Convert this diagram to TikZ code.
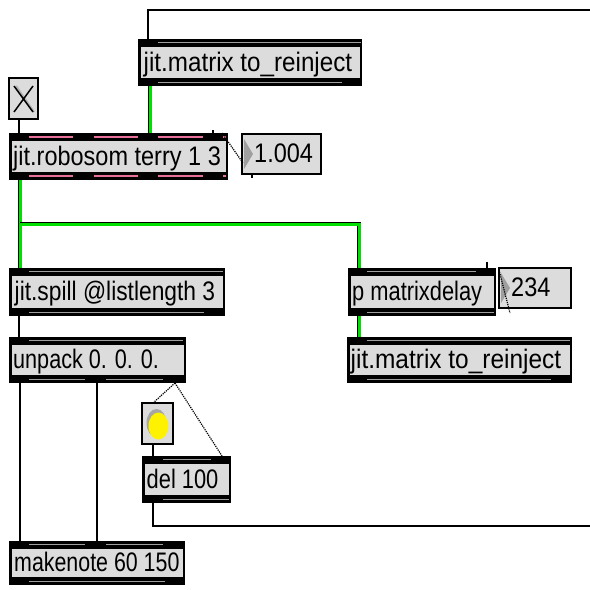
\documentclass[tikz,border=0pt]{standalone}
\usepackage{fontspec}
\usepackage{graphicx}
\setmainfont{Liberation Sans}
\usetikzlibrary{calc}
\definecolor{boxgrey}{HTML}{DCDCDC}
\definecolor{bargrey}{HTML}{A0A0A0}
\definecolor{cordgreen}{HTML}{00E000}
\definecolor{pinkbar}{HTML}{E8709A}
\tikzset{
  objbox/.style={draw=none, fill=black, inner sep=0pt, outer sep=0pt},
  smallbox/.style={draw=black, line width=1.5pt, fill=boxgrey, inner sep=0pt, outer sep=0pt},
  objtext/.style={anchor=west, inner sep=0pt, font=\fontsize{23.5}{23.5}\selectfont, text height=20pt, text depth=3pt},
  cord/.style={draw=black, line width=1.6pt},
  dotcord/.style={draw=black, line width=1.2pt, densely dotted},
  greencord/.style={draw=black, line width=0.7pt, double=cordgreen, double distance=3pt},
  inletbar/.style={draw=bargrey, line width=1.8pt},
  pinkdash/.style={draw=pinkbar, line width=2pt},
}
% name, x1, y1, x2, y2, text, xscale of text, text offset
\newcommand\maxobj[8]{%
  \node[objbox, minimum width={(#4-#2)*1pt}, minimum height={(#5-#3)*1pt}] (#1) at ({(#2+#4)/2},{(#3+#5)/2}) {};
  \fill[boxgrey] ({#2+2.5},{#3+8}) rectangle ({#4-2},{#5-8});
  \node[objtext] at ({#2+#8},{(#3+#5)/2}) {\scalebox{#7}[1.14]{#6}};
}
\newcommand\inbar[3]{\draw[inletbar] (#1,#3) -- (#2,#3);}
\newcommand\numbox[6]{%
  \node[smallbox, minimum width={(#4-#2)*1pt}, minimum height={(#5-#3)*1pt}] (#1) at ({(#2+#4)/2},{(#3+#5)/2}) {};
  \fill[gray!75] ({#2+2},{#3+5}) -- ({#2+11},{(#3+#5)/2}) -- ({#2+2},{#5-5}) -- cycle;
  \node[objtext, text height=19pt, text depth=2pt] at ({#2+12},{(#3+#5)/2}) {\scalebox{1}[1.14]{#6}};
}
\begin{document}
\begin{tikzpicture}[x=1pt,y=-1pt]
\fill[white] (0,0) rectangle (590,590);
\useasboundingbox (0,0) rectangle (590,590);

% objects
\maxobj{mtop}{138}{39}{362}{86}{jit.matrix to\_reinject}{1.03}{5.5}
\inbar{158}{361}{42.5}\inbar{158}{342}{82.5}

\node[smallbox, minimum width=29pt, minimum height=41pt] (toggle) at (23.5,98.5) {};
\draw[gray!60, line width=2pt] (16,86) -- (34,112);
\draw[black, line width=1.5pt] (14,86) -- (33,112) (33,86) -- (14,112);

\node[objbox, minimum width=219pt, minimum height=47pt] (robo) at (118.5,156.5) {};
\fill[boxgrey] (11.5,141) rectangle (226,172);
\node[objtext] at (13,156.5) {\scalebox{1.0}[1.14]{jit.robosom terry 1 3}};
\foreach \a/\b in {29/73,94/138,158/203}{\draw[pinkdash] (\a,137) -- (\b,137); \draw[pinkdash] (\a,176) -- (\b,176);}
\draw[pinkdash] (223,137) -- (226,137); \draw[pinkdash] (223,176) -- (226,176);

\numbox{num1}{242}{134}{321}{174}{1.004}

\maxobj{spill}{9}{268}{225}{316}{jit.spill @listlength 3}{0.97}{5.5}
\inbar{29}{223}{271.5}\inbar{29}{204}{312.5}

\maxobj{unpack}{9}{337}{186}{383}{unpack 0. 0. 0.}{0.92}{4}
\inbar{29}{183}{340.5}\inbar{29}{85}{379.5}\inbar{106}{163}{379.5}

\node[smallbox, minimum width=31pt, minimum height=41pt] (bang) at (157.5,423.5) {};
\fill[gray!70] (156.5,423) ellipse [x radius=10, y radius=14];
\fill[yellow] (158.5,426) ellipse [x radius=10, y radius=13.5];

\maxobj{del}{142}{456}{231}{503}{del 100}{0.93}{4.5}
\inbar{163}{211}{459.5}\inbar{163}{229}{499.5}

\maxobj{makenote}{9}{541}{185}{585}{makenote 60 150}{0.91}{5}
\inbar{29}{85}{544.5}\inbar{106}{163}{544.5}\inbar{29}{165}{581.5}

\maxobj{pdel}{348}{268}{496}{316}{p matrixdelay}{0.93}{4}
\inbar{367}{476}{271.5}\inbar{367}{494}{312.5}

\numbox{num2}{499}{268}{571}{308}{234}

\maxobj{mbot}{347}{337}{572}{383}{jit.matrix to\_reinject}{1.04}{3.5}
\inbar{367}{570}{340.5}\inbar{367}{551}{379.5}

% small ticks
\draw[black, line width=1.2pt] (213,130) -- (213,134);
\draw[black, line width=1.2pt] (487,262) -- (487,268);
\draw[black, line width=1.5pt] (252,174) -- (252,178);

% connectors
\coordinate (topR) at (592,10);
\coordinate (botR) at (592,526);
\coordinate (gjy) at (0,224);
\draw[cord] ([xshift=10pt]mtop.north west) |- (topR);
\draw[greencord] ([xshift=12pt]mtop.south west) -- ([xshift=12pt]mtop.south west |- robo.north);
\draw[cord] ([xshift=10pt]toggle.south west) -- ([xshift=10pt]toggle.south west |- robo.north);
\draw[dotcord] ([xshift=-6pt]robo.north east) -- ([xshift=1pt,yshift=-29pt]num1.north west);
\draw[greencord] ([xshift=11pt]robo.south west) -- ([xshift=11pt]spill.north west);
\draw[greencord] ([xshift=11pt]robo.south west |- gjy) -| ([xshift=11pt]pdel.north west);
\draw[cord] ([xshift=10pt]spill.south west) -- ([xshift=10pt]unpack.north west);
\draw[cord] ([xshift=11pt]unpack.south west) -- ([xshift=11pt]makenote.north west);
\draw[cord] ([xshift=88pt]unpack.south west) -- ([xshift=88pt]makenote.north west);
\draw[dotcord] ([xshift=-11pt]unpack.south east) -- ([xshift=11pt]bang.north west);
\draw[dotcord] ([xshift=-11pt]unpack.south east) -- ([xshift=-9pt]del.north east);
\draw[cord] ([xshift=11pt]bang.south west) -- ([xshift=11pt]del.north west);
\draw[cord] ([xshift=11pt]del.south west) |- (botR);
\draw[dotcord] ([xshift=3pt,yshift=-2pt]pdel.north east) -- ([xshift=11pt,yshift=-5pt]num2.south west);
\draw[greencord] ([xshift=11pt]pdel.south west) -- ([xshift=11pt]pdel.south west |- mbot.north);
\end{tikzpicture}
\end{document}
